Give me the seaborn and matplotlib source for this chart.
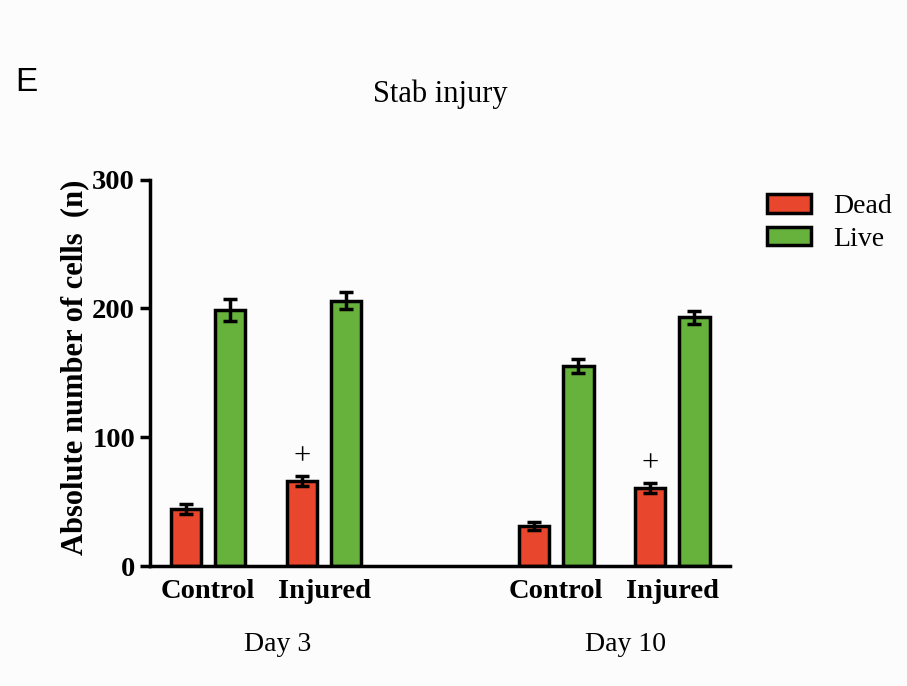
import matplotlib
matplotlib.use("Agg")
import matplotlib.pyplot as plt
import matplotlib.patches as mpatches
import matplotlib.transforms as mtransforms
import numpy as np
import pandas as pd
import seaborn as sns

# ---- data -------------------------------------------------------------
conditions = ["Day 3 Control", "Day 3 Injured", "Day 10 Control", "Day 10 Injured"]
tick_names = ["Control", "Injured", "Control", "Injured"]
day_labels = ["Day 3", "Day 10"]
statuses = ["Dead", "Live"]
dead_mean = [44, 66, 31, 60.5]
dead_sem = [4, 4, 3, 4]
live_mean = [199, 206, 155, 193]
live_sem = [8.5, 6.5, 5.5, 5]
significant = [False, True, False, True]   # "+" over the dead-cell bar

# ---- styling ----------------------------------------------------------
sns.set_style("ticks")
plt.rcParams["font.family"] = ["Liberation Serif", "DejaVu Serif"]
plt.rcParams.update({
    "axes.linewidth": 2.5,
    "axes.edgecolor": "black",
    "text.color": "black",
    "axes.labelcolor": "black",
    "xtick.color": "black",
    "ytick.color": "black",
})

LW = 2.5
palette = {"Dead": "#E8472D", "Live": "#67B23D"}
GAP = "gap"  # empty slot between the two days
order = conditions[:2] + [GAP] + conditions[2:]

df = pd.DataFrame({
    "condition": conditions * 2,
    "status": ["Dead"] * 4 + ["Live"] * 4,
    "value": dead_mean + live_mean,
    "sem": dead_sem + live_sem,
})

fig = plt.figure(figsize=(9.07, 6.86), dpi=100, facecolor="#FCFCFC")
ax = fig.add_axes([0.1654, 0.1749, 0.6395, 0.5634])
ax.set_facecolor("#FCFCFC")

sns.barplot(data=df, x="condition", y="value", hue="status", order=order,
            hue_order=statuses, palette=palette, width=0.76, gap=0.3,
            edgecolor="black", linewidth=LW, errorbar=None, legend=False,
            saturation=1, ax=ax)

# error bars (SEM) at each bar's centre
sem_lookup = {(r.condition, r.status): r.sem for r in df.itertuples()}
for status, container in zip(statuses, ax.containers):
    for bar in container:
        cx = bar.get_x() + bar.get_width() / 2
        h = bar.get_height()
        if np.isnan(h):
            continue
        cond = order[int(round(cx))]
        err = sem_lookup[(cond, status)]
        ax.errorbar(cx, h, yerr=err, color="black", elinewidth=LW,
                    capsize=5.3, capthick=LW, zorder=4)
        if status == "Dead" and significant[conditions.index(cond)]:
            ax.annotate("+", (cx, h + err), xytext=(0, 16.5),
                        textcoords="offset points", ha="center",
                        va="center_baseline", fontsize=22)

# axes
ax.set_ylim(0, 300)
ax.set_xlim(-0.5, len(order) - 0.5)
ax.set_yticks([0, 100, 200, 300])
ax.tick_params(axis="y", length=7.2, width=LW, pad=3.6, labelsize=20.5)
ax.tick_params(axis="x", length=0, pad=9, labelsize=20.5)
for lab in ax.get_yticklabels():
    lab.set_fontweight("bold")
ax.set_xticks(range(len(order)))
ax.set_xticklabels(tick_names[:2] + [""] + tick_names[2:], fontweight="bold")
ax.set_xlabel("")
ax.set_ylabel("Absolute number of cells  (n)", fontsize=22, fontweight="bold")
ax.yaxis.set_label_coords(-0.105, 0.514)
sns.despine(ax=ax)

# day group labels under the tick labels
trans = mtransforms.blended_transform_factory(ax.transData, ax.transAxes)
for xpos, lab in zip([0.6, 3.6], day_labels):
    ax.text(xpos, -0.22, lab, transform=trans, ha="center", va="baseline",
            fontsize=20)

ax.text(0.5, 1.2, "Stab injury", transform=ax.transAxes, ha="center",
        va="baseline", fontsize=22)

fig.text(15 / 907, 1 - 91 / 686, "E", fontsize=24, va="baseline",
         family=["Liberation Sans", "DejaVu Sans"])

handles = [mpatches.Patch(facecolor=palette[s], edgecolor="black",
                          linewidth=LW, label=s) for s in statuses]
fig.legend(handles=handles, loc="upper left",
           bbox_to_anchor=(767 / 907, 1 - 194 / 686), frameon=False,
           fontsize=20, handlelength=1.58, handleheight=0.65,
           handletextpad=0.8, labelspacing=0.27, borderpad=0,
           borderaxespad=0)

fig.savefig("out.png", dpi=100, facecolor=fig.get_facecolor())
